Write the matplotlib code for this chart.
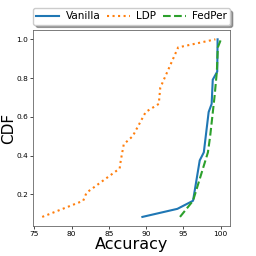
import numpy as np
import matplotlib
matplotlib.use("Agg")
import matplotlib.pyplot as plt


# ---- Donnees (CDF, pas de 1/24) ---- #

vanilla_acc = [89.5, 94.2, 96.3, 97.2, 97.75, 98.4, 98.8, 98.95, 99.55, 99.6]
vanilla_cdf = [2, 3, 4, 9, 10, 15, 16, 19, 20, 24]

ldp_acc = [76.05, 81.55, 82.0, 86.45, 86.6, 87.0, 88.2, 89.95, 91.7, 91.9, 94.3, 99.3]
ldp_cdf = [2, 4, 5, 8, 9, 11, 12, 15, 16, 18, 23, 24]

fedper_acc = [94.55, 96.3, 97.3, 98.3, 98.6, 99.2, 99.5, 99.63, 100.05]
fedper_cdf = [2, 4, 7, 10, 12, 17, 20, 23, 24]

n_clients = 24
labels = ["Vanilla", "LDP", "FedPer"]


# ---- Trace ---- #

fig = plt.figure(figsize=(2.56, 2.56), dpi=100)
ax = fig.add_axes([0.13, 0.118, 0.768, 0.763])

ax.plot(vanilla_acc, np.array(vanilla_cdf) / n_clients, '-', color='#1f77b4',
        lw=1.5, label=labels[0])
ax.plot(ldp_acc, np.array(ldp_cdf) / n_clients, ':', color='#ff7f0e',
        lw=1.5, label=labels[1])
ax.plot(fedper_acc, np.array(fedper_cdf) / n_clients, '--', color='#2ca02c',
        lw=1.5, label=labels[2])

ax.set_xticks([75, 80, 85, 90, 95, 100])
ax.set_yticks([0.2, 0.4, 0.6, 0.8, 1.0])
ax.tick_params(labelsize=5.3, length=2, width=0.5, pad=1.5)
for sp in ax.spines.values():
    sp.set_linewidth(0.6)
    sp.set_color('#666666')

ax.set_xlabel("Accuracy", fontsize=11.5, labelpad=0)
ax.set_ylabel("CDF", fontsize=11, labelpad=0.5)

ax.legend(loc='lower left', bbox_to_anchor=(0.0, 1.03, 1.0, 0.1), mode='expand',
          ncol=3, fontsize=7.5, shadow=True, handlelength=2.2,
          borderpad=0.3, borderaxespad=0.0, handletextpad=0.6)

fig.savefig("out.png", dpi=100)
